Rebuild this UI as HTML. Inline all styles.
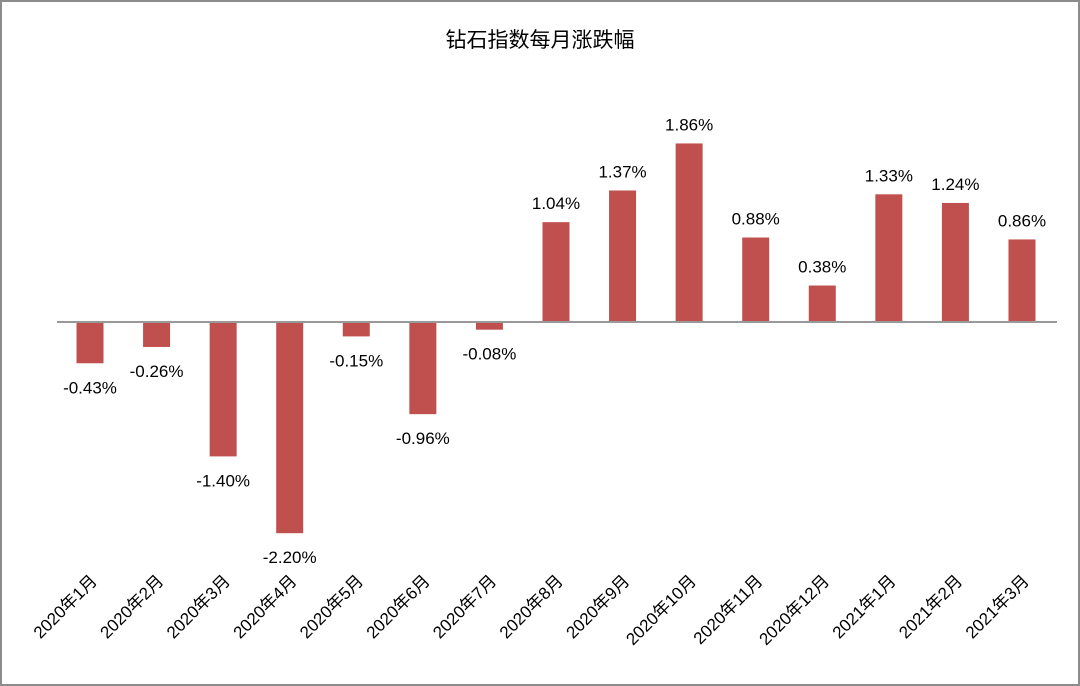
<!DOCTYPE html>
<html><head><meta charset="utf-8"><style>
html,body{margin:0;padding:0;background:#fff}
svg{display:block;font-family:"Liberation Sans","Noto Sans CJK SC",sans-serif}
</style></head><body>
<svg id="chart" width="1080" height="686">
<rect x="1" y="1" width="1078" height="684" fill="#fff" stroke="#8c8c8c" stroke-width="2"/>
<text x="540" y="47" text-anchor="middle" font-size="21" fill="#000">钻石指数每月涨跌幅</text>
<g id="bars"></g>
<line x1="57" x2="1057" y1="322" y2="322" stroke="#999" stroke-width="2"/>
<g id="labels"></g>
</svg>
<script>
const categories=["2020年1月","2020年2月","2020年3月","2020年4月","2020年5月","2020年6月","2020年7月","2020年8月","2020年9月","2020年10月","2020年11月","2020年12月","2021年1月","2021年2月","2021年3月"];
const values=[-0.43,-0.26,-1.40,-2.20,-0.15,-0.96,-0.08,1.04,1.37,1.86,0.88,0.38,1.33,1.24,0.86];
const valueLabels=["-0.43%","-0.26%","-1.40%","-2.20%","-0.15%","-0.96%","-0.08%","1.04%","1.37%","1.86%","0.88%","0.38%","1.33%","1.24%","0.86%"];
const NS="http://www.w3.org/2000/svg";
const x0=90,step=66.57,bw=27,zeroY=322,pxPer=96;
const xs=i=>x0+i*step;
const ys=v=>zeroY-v*pxPer;
const gb=document.getElementById('bars'),gl=document.getElementById('labels');
categories.forEach((c,i)=>{
  const v=values[i],cx=xs(i),y=ys(v);
  const r=document.createElementNS(NS,'rect');
  r.setAttribute('x',cx-bw/2);r.setAttribute('width',bw);
  r.setAttribute('y',Math.min(y,zeroY));r.setAttribute('height',Math.abs(y-zeroY));
  r.setAttribute('fill','#c0504d');
  
  
  gb.appendChild(r);
  const t=document.createElementNS(NS,'text');
  t.setAttribute('x',cx);
  t.setAttribute('y',v>=0?y-13:y+30);
  t.setAttribute('text-anchor','middle');t.setAttribute('font-size','17');
  t.textContent=valueLabels[i];
  
  
  gl.appendChild(t);
  const a=document.createElementNS(NS,'text');
  const ax=cx+8,ay=582;
  a.setAttribute('x',ax);a.setAttribute('y',ay);
  a.setAttribute('text-anchor','end');a.setAttribute('font-size','17');
  a.setAttribute('transform','rotate(-45 '+ax+' '+ay+')');
  a.textContent=c;
  
  
  gl.appendChild(a);
});
</script>
</body></html>
